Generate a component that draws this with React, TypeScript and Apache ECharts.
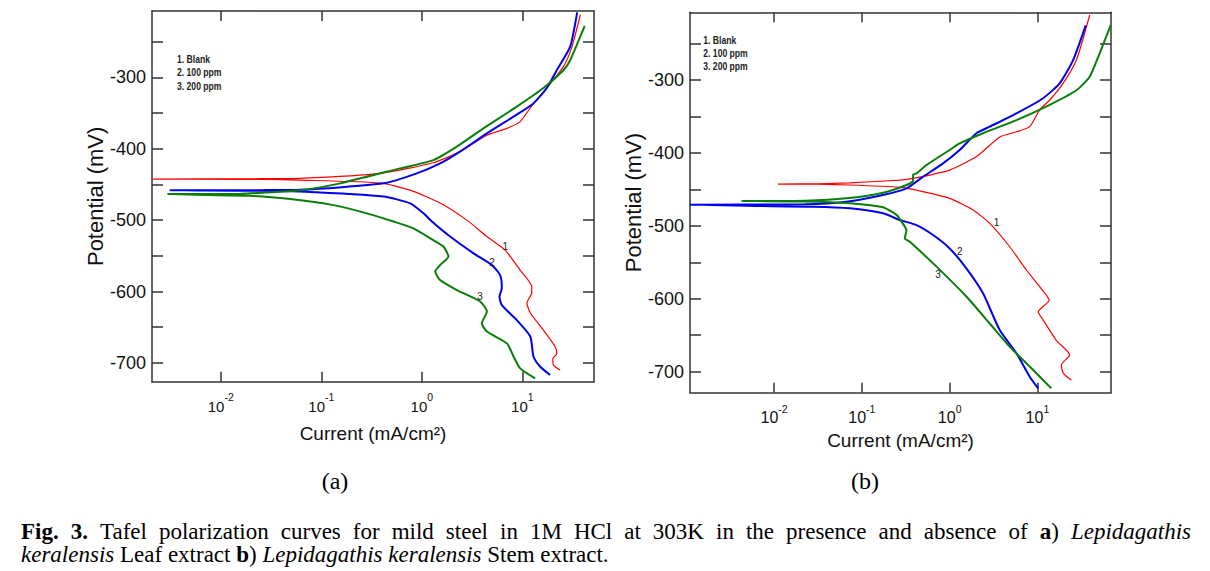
import React, { useEffect, useRef } from 'react';
import * as echarts from 'echarts';

const SANS = "'Liberation Sans', Arial, Helvetica, sans-serif";
const SERIF = "'Liberation Serif', 'Times New Roman', Times, serif";

// ---------- texts & ticks ----------
const LEGEND_LINES = ['1. Blank', '2. 100 ppm', '3. 200 ppm'];
const CURVE_TAGS = ['1', '2', '3'];
const SERIES_NAMES = ['Blank', '100 ppm', '200 ppm'];
const X_TICKS = [0.01, 0.1, 1, 10];
const Y_TICKS = [-700, -650, -600, -550, -500, -450, -400, -350, -300, -250];
const Y_LABELS = [-700, -600, -500, -400, -300];
const X_NAME = 'Current (mA/cm²)';
const Y_NAME = 'Potential (mV)';
const PANEL_TAGS = ['(a)', '(b)'];
const CAPTION_LINE_1 =
  '{b|Fig.} {b|3.} Tafel polarization curves for mild steel in 1M HCl at 303K in the presence and absence of {b|a}) {i|Lepidagathis}';
const CAPTION_LINE_2 =
  '{i|keralensis} Leaf extract {b|b}) {i|Lepidagathis} {i|keralensis} Stem extract.';

// ---------- data: [current (mA/cm²), potential (mV)] ----------
// (a) Leaf extract
const A_BLANK: [number, number][] = [
  [23.8, -710], [20.4, -703], [20.1, -694], [22.0, -687], [21.2, -677], [16.2, -654],
  [12.0, -630], [11.1, -616], [12.4, -602], [12.4, -593], [9.5, -570], [6.75, -542],
  [4.44, -523], [2.81, -500], [1.52, -476], [0.766, -458], [0.385, -448], [0.0615, -444],
  [0.025, -443], [0.0021, -442.5], [0.025, -442], [0.0615, -441.5], [0.385, -434.5],
  [1.3, -419.6], [2.4, -404], [4.44, -381], [7.02, -371.5], [9.51, -362], [12.9, -336.5],
  [17.5, -315], [25.6, -285], [31.0, -258], [37.8, -212],
];
const A_100: [number, number][] = [
  [18.9, -717], [15.0, -705], [12.9, -691], [12.0, -663], [8.81, -640], [6.25, -619],
  [5.92, -607], [6.25, -595.5], [6.01, -577], [4.98, -563], [3.27, -546.5], [1.91, -523],
  [1.26, -502], [1.04, -490.5], [0.766, -476.5], [0.415, -467], [0.0615, -460], [0.025, -459],
  [0.00313, -458.3], [0.025, -458], [0.0615, -457.5], [0.415, -448.5], [0.891, -434.5],
  [1.52, -420.5], [2.4, -404], [4.44, -378.5], [8.17, -355], [12.9, -336.5], [17.5, -315],
  [22.0, -290], [29.9, -257], [35.1, -209],
];
const A_200: [number, number][] = [
  [13.4, -721.6], [9.51, -707.6], [8.17, -691], [7.02, -672.6], [4.44, -656], [3.95, -644.6],
  [4.44, -628], [3.8, -614], [2.23, -598], [1.52, -584], [1.36, -572], [1.52, -563],
  [1.84, -551], [1.64, -537], [1.3, -528], [0.824, -511.5], [0.522, -502], [0.284, -490.5],
  [0.132, -479], [0.049, -470.5], [0.0195, -466], [0.00297, -463.4], [0.0158, -463],
  [0.0615, -458], [0.154, -448.5], [0.608, -427.5], [1.3, -416], [2.23, -397], [4.1, -371.5],
  [8.81, -341], [16.2, -315], [25.6, -290], [29.9, -276], [41.7, -228],
];
// (b) Stem extract
const B_BLANK: [number, number][] = [
  [24.4, -711.5], [19.6, -702], [18.7, -691], [23.3, -677], [16.4, -657], [11.6, -629],
  [10.2, -618], [13.6, -602], [10.6, -583.5], [7.5, -560.6], [4.84, -528.7], [2.86, -496.6],
  [1.85, -478.3], [1.0, -462.3], [0.419, -451], [0.27, -447.2], [0.0726, -444], [0.0316, -443],
  [0.0111, -442.7], [0.0316, -442.3], [0.0726, -441], [0.27, -437.2], [0.383, -435],
  [1.0, -423.5], [2.02, -405], [3.72, -378], [5.77, -371], [8.17, -364], [10.6, -341],
  [13.8, -327.4], [19.6, -304.6], [27.8, -272.6], [39.4, -210.8],
];
const B_100: [number, number][] = [
  [10.2, -723], [8.17, -707], [5.77, -675], [3.72, -643], [2.4, -592.6], [1.55, -558.3],
  [1.0, -531], [0.647, -512.6], [0.419, -499], [0.27, -492], [0.174, -482.8], [0.0728, -476],
  [0.0278, -473.8], [0.0011, -471], [0.0224, -470.5], [0.0667, -467], [0.174, -457.7],
  [0.322, -448.6], [0.498, -432.6], [0.841, -414.3], [1.3, -396], [2.02, -373], [2.86, -364],
  [5.77, -345.7], [11.6, -325], [17.9, -304.5], [25.5, -272.6], [35.5, -225],
];
const B_200: [number, number][] = [
  [14.4, -723], [8.17, -693], [4.84, -666], [2.86, -634], [1.55, -597], [0.708, -556],
  [0.352, -522], [0.308, -517], [0.322, -506], [0.282, -494], [0.248, -485], [0.174, -474.6],
  [0.0728, -469], [0.0224, -466.5], [0.00426, -466], [0.0224, -465.5], [0.0667, -462.3],
  [0.174, -454.6], [0.322, -444], [0.383, -438], [0.383, -430], [0.419, -428], [0.545, -416.6],
  [1.0, -396], [1.3, -387], [2.4, -373], [5.77, -355], [13.8, -334], [27.8, -314],
  [39.4, -295.5], [51.3, -263], [68.5, -224.6],
];
// curve-number annotations
const A_TAG_POS: [number, number][] = [[6.75, -537], [4.98, -559], [3.8, -607]];
const B_TAG_POS: [number, number][] = [[3.41, -496], [1.3, -535], [0.738, -567]];

// ---------- layout / style ----------
const COLORS = ['#ff0000', '#0000f0', '#0a7d0a'];
const LINE_WIDTHS = [1.2, 2, 2];
const AX = '#333';

const PANELS = [
  {
    data: [A_BLANK, A_100, A_200], tags: A_TAG_POS,
    grid: { left: 152, top: 11, width: 442, height: 370.7 },
    xMin: 0.00207, xMax: 51.6, yMin: -726.3, yMax: -207.1,
    xLabelSize: 15, xLabelMargin: 16, xNameGap: 42, yNameGap: 44,
    legend: { x: 177, y: 52.7 }, tag: { x: 335, y: 481 },
  },
  {
    data: [B_BLANK, B_100, B_200], tags: B_TAG_POS,
    grid: { left: 690, top: 12.3, width: 421, height: 380.4 },
    xMin: 0.0011, xMax: 68.9, yMin: -728.9, yMax: -207.1,
    xLabelSize: 16, xLabelMargin: 17, xNameGap: 38, yNameGap: 42.6,
    legend: { x: 703.3, y: 33.4 }, tag: { x: 865, y: 481 },
  },
];

const CAP_SIZE = 23;
const RICH_CAP = {
  r: { fontSize: CAP_SIZE, fontFamily: SERIF, color: '#000' },
  b: { fontSize: CAP_SIZE, fontFamily: SERIF, fontWeight: 'bold', color: '#000' },
  i: { fontSize: CAP_SIZE, fontFamily: SERIF, fontStyle: 'italic', color: '#000' },
};

function parseTokens(word: string): { s: string; t: string }[] {
  const out: { s: string; t: string }[] = [];
  const re = /\{(\w)\|([^}]*)\}|([^{]+)/g;
  let m: RegExpExecArray | null;
  while ((m = re.exec(word))) {
    if (m[1]) out.push({ s: m[1], t: m[2] });
    else out.push({ s: 'r', t: m[3] });
  }
  return out;
}
function toRich(tokens: { s: string; t: string }[]) {
  return tokens.map((k) => `{${k.s}|${k.t}}`).join('');
}
function capFont(s: string) {
  return `${s === 'i' ? 'italic ' : ''}${s === 'b' ? 'bold ' : ''}${CAP_SIZE}px ${SERIF}`;
}

function buildCaption(): any[] {
  const ctx = document.createElement('canvas').getContext('2d')!;
  const measure = (tokens: { s: string; t: string }[]) =>
    tokens.reduce((acc, k) => {
      ctx.font = capFont(k.s);
      return acc + ctx.measureText(k.t).width;
    }, 0);
  const words = CAPTION_LINE_1.split(' ').map(parseTokens);
  const widths = words.map(measure);
  const x0 = 21, x1 = 1191;
  const total = widths.reduce((a, b) => a + b, 0);
  const gap = (x1 - x0 - total) / (words.length - 1);
  const els: any[] = [];
  let x = x0;
  words.forEach((w, k) => {
    els.push({
      type: 'text', x, y: 531,
      style: { text: toRich(w), rich: RICH_CAP, textVerticalAlign: 'middle', textAlign: 'left' },
    });
    x += widths[k] + gap;
  });
  const line2 = CAPTION_LINE_2.split(' ').map((w) => toRich(parseTokens(w))).join('{r| }');
  els.push({
    type: 'text', x: 21, y: 554,
    style: { text: line2, rich: RICH_CAP, textVerticalAlign: 'middle', textAlign: 'left' },
  });
  return els;
}

function buildOption(): any {
  const grid: any[] = [];
  const xAxis: any[] = [];
  const yAxis: any[] = [];
  const series: any[] = [];
  const graphic: any[] = [];
  const axisLine = { show: true, lineStyle: { color: AX, width: 1.5 } };
  const tickStyle = { color: AX, width: 1.5 };

  PANELS.forEach((p, i) => {
    grid.push({ ...p.grid });
    const baseX = {
      type: 'log', logBase: 10, gridIndex: i, min: p.xMin, max: p.xMax,
      splitLine: { show: false }, minorTick: { show: false }, axisLine,
      axisTick: { show: true, inside: true, length: 10, lineStyle: tickStyle, customValues: X_TICKS },
    };
    xAxis.push({
      ...baseX, position: 'bottom',
      name: X_NAME, nameLocation: 'middle', nameGap: p.xNameGap,
      nameTextStyle: { fontFamily: SANS, fontSize: 19, lineHeight: 19, color: '#111' },
      axisLabel: {
        show: true, customValues: X_TICKS, margin: p.xLabelMargin,
        formatter: (v: number) => `{b|10}{s|${Math.round(Math.log10(v))}}`,
        rich: {
          b: { fontFamily: SANS, fontSize: p.xLabelSize, lineHeight: 16, color: '#111', verticalAlign: 'bottom' },
          s: { fontFamily: SANS, fontSize: 10.5, lineHeight: 10, color: '#111', padding: [0, 0, 11, 0], verticalAlign: 'bottom' },
        },
      },
    });
    xAxis.push({ ...baseX, position: 'top', axisLabel: { show: false } });

    const baseY = {
      type: 'value', gridIndex: i, min: p.yMin, max: p.yMax,
      splitLine: { show: false }, axisLine,
      axisTick: { show: true, inside: true, length: 11, lineStyle: tickStyle, customValues: Y_TICKS },
    };
    yAxis.push({
      ...baseY, position: 'left',
      name: Y_NAME, nameLocation: 'middle', nameGap: p.yNameGap,
      nameTextStyle: { fontFamily: SANS, fontSize: 22, lineHeight: 22, color: '#111' },
      axisLabel: { show: true, customValues: Y_LABELS, margin: 6, fontFamily: SANS, fontSize: 18, color: '#111' },
    });
    yAxis.push({ ...baseY, position: 'right', axisLabel: { show: false } });

    p.data.forEach((d, k) => {
      series.push({
        type: 'line', name: SERIES_NAMES[k], xAxisIndex: 2 * i, yAxisIndex: 2 * i,
        data: d, showSymbol: false, symbol: 'none', smooth: 0.2,
        lineStyle: { color: COLORS[k], width: LINE_WIDTHS[k] },
        markPoint: {
          symbol: 'circle', symbolSize: 1, silent: true,
          itemStyle: { color: 'rgba(0,0,0,0)' },
          label: { show: true, position: 'inside', formatter: CURVE_TAGS[k], fontFamily: SANS, fontSize: 10, color: '#222' },
          data: [{ coord: p.tags[k] }],
        },
      });
    });

    graphic.push({
      type: 'text', x: p.legend.x, y: p.legend.y, scaleX: 0.82,
      style: {
        text: LEGEND_LINES.join('\n'), fontFamily: SANS, fontSize: 10.5, fontWeight: 'bold',
        lineHeight: 13.3, fill: '#222', textVerticalAlign: 'top', textAlign: 'left',
      },
    });
    graphic.push({
      type: 'text', x: p.tag.x, y: p.tag.y,
      style: { text: PANEL_TAGS[i], fontFamily: SERIF, fontSize: 24, fill: '#000', textAlign: 'center', textVerticalAlign: 'middle' },
    });
  });

  graphic.push(...buildCaption());

  return { animation: false, backgroundColor: '#fff', grid, xAxis, yAxis, series, graphic };
}

export default function App() {
  const ref = useRef<HTMLDivElement>(null);
  useEffect(() => {
    const chart = echarts.init(ref.current!, null, { renderer: 'svg' });
    chart.setOption(buildOption());
    return () => chart.dispose();
  }, []);
  return (
    <div style={{ position: 'absolute', left: 0, top: 0, width: 1210, height: 571, background: '#fff' }}>
      <div ref={ref} style={{ width: 1210, height: 571 }} />
    </div>
  );
}
